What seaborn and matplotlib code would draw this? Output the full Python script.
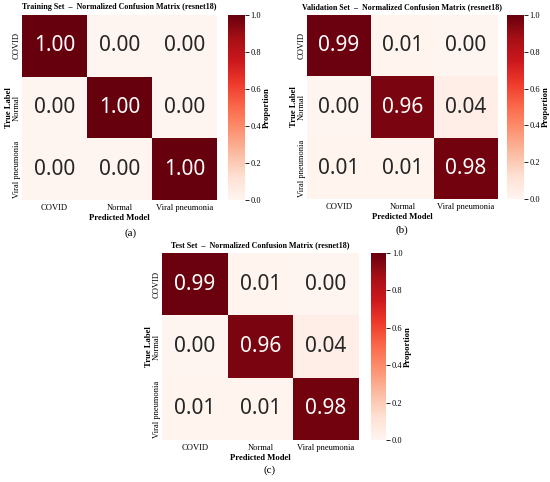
import numpy as np
import matplotlib
matplotlib.use("Agg")
import matplotlib.pyplot as plt
import seaborn as sns

# Clases y matrices de confusion normalizadas
classes = ["COVID", "Normal", "Viral pneumonia"]
train_cm = [[1.00, 0.00, 0.00],
            [0.00, 1.00, 0.00],
            [0.00, 0.00, 1.00]]
val_cm = [[0.99, 0.01, 0.00],
          [0.00, 0.96, 0.04],
          [0.01, 0.01, 0.98]]
test_cm = [[0.99, 0.01, 0.00],
           [0.00, 0.96, 0.04],
           [0.01, 0.01, 0.98]]
titles = ["Training Set  \u2013  Normalized Confusion Matrix (resnet18)",
          "Validation Set  \u2013  Normalized Confusion Matrix (resnet18)",
          "Test Set  \u2013  Normalized Confusion Matrix (resnet18)"]
panel_tags = ["(a)", "(b)", "(c)"]

serif = "Liberation Serif"

fig = plt.figure(figsize=(5.5, 4.82), dpi=100)

# [heatmap rect, colorbar rect, tag position]
layout = [
    ([0.040, 0.585, 0.355, 0.384], [0.4145, 0.585, 0.031, 0.384], (0.237, 0.517)),
    ([0.558, 0.587, 0.347, 0.382], [0.922, 0.587, 0.031, 0.382], (0.731, 0.522)),
    ([0.2945, 0.087, 0.358, 0.388], [0.6745, 0.087, 0.028, 0.388], (0.491, 0.025)),
]

for cm, title, tag, (rect, crect, tpos) in zip([train_cm, val_cm, test_cm], titles, panel_tags, layout):
    ax = fig.add_axes(rect)
    cax = fig.add_axes(crect)
    sns.heatmap(np.array(cm), ax=ax, cbar_ax=cax, cmap="Reds", vmin=0, vmax=1,
                annot=True, fmt=".2f", annot_kws={"fontsize": 15, "family": "Noto Sans"},
                xticklabels=classes, yticklabels=classes)
    ax.tick_params(axis="x", length=0, pad=3)
    ax.tick_params(axis="y", length=0, pad=1)
    ax.set_xticklabels(classes, rotation=0, fontfamily=serif, fontsize=6.1)
    ax.set_yticklabels(classes, rotation=90, va="center", fontfamily=serif, fontsize=6.1)
    ax.set_xlabel("Predicted Model", fontfamily=serif, fontweight="bold", fontsize=6.2, labelpad=1.5)
    ax.set_ylabel("True Label", fontfamily=serif, fontweight="bold", fontsize=6.2, labelpad=0)
    ax.set_title(title, fontfamily=serif, fontweight="bold", fontsize=5.8, pad=4)

    cax.set_yticks([0.0, 0.2, 0.4, 0.6, 0.8, 1.0])
    cax.tick_params(labelsize=6, length=3, width=0.6, pad=1)
    for lb in cax.get_yticklabels():
        lb.set_fontfamily(serif)
    cax.set_ylabel("Proportion", fontfamily=serif, fontweight="bold", fontsize=6.2, labelpad=1)

    fig.text(tpos[0], tpos[1], tag, ha="center", va="center", fontfamily=serif, fontsize=8)

fig.savefig("out.png", dpi=100)
